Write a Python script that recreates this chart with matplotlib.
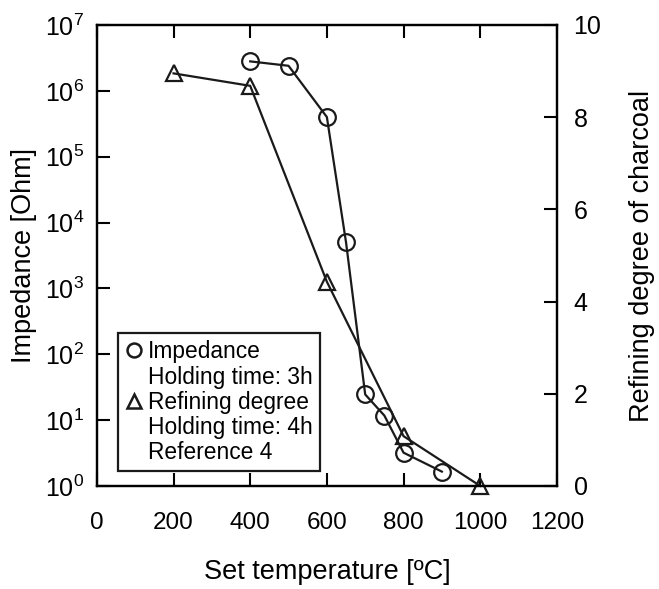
import matplotlib
matplotlib.use('Agg')
import matplotlib.pyplot as plt
from matplotlib.lines import Line2D

plt.rcParams['font.family'] = ['Liberation Sans', 'DejaVu Sans']
plt.rcParams['mathtext.fontset'] = 'custom'
plt.rcParams['mathtext.rm'] = 'Liberation Sans'

# Impedancia (eje izquierdo, log)
temp_imp = [400, 500, 600, 650, 700, 750, 800, 900]
impedancia = [2.8e6, 2.4e6, 4.0e5, 5.0e3, 24.5, 11.7, 3.2, 1.65]

# Grado de refinado (eje derecho)
temp_ref = [200, 400, 600, 800, 1000]
refinado = [8.95, 8.68, 4.43, 1.08, 0.0]

x_ticks = [0, 200, 400, 600, 800, 1000, 1200]
y_ticks_izq = [1e0, 1e1, 1e2, 1e3, 1e4, 1e5, 1e6, 1e7]
y_ticks_der = [0, 2, 4, 6, 8, 10]

fig, ax = plt.subplots(figsize=(6.59, 5.89), dpi=100)
fig.subplots_adjust(left=0.147, right=0.845, top=0.9576, bottom=0.175)

ax.plot(temp_imp, impedancia, color='#1a1a1a', lw=1.6, marker='o', ms=12,
        mfc='none', mec='#1a1a1a', mew=1.6)
ax.set_yscale('log')
ax.set_xlim(0, 1200)
ax.set_ylim(1e0, 1e7)
ax.set_xticks(x_ticks)
ax.set_yticks(y_ticks_izq)
ax.yaxis.set_minor_locator(matplotlib.ticker.NullLocator())
ax.tick_params(axis='both', direction='in', length=9.5, width=1.5)
ax.tick_params(axis='x', top=True, labelsize=17.5, pad=19)
ax.tick_params(axis='y', labelsize=18, pad=9)
ax.set_xlabel('Set temperature [ºC]', fontsize=19.5, labelpad=18)
ax.set_ylabel('Impedance [Ohm]', fontsize=19.5, labelpad=6)
for s in ax.spines.values():
    s.set_linewidth(1.6)

ax2 = ax.twinx()
ax2.plot(temp_ref, refinado, color='#1a1a1a', lw=1.6, marker='^', ms=12,
         mfc='none', mec='#1a1a1a', mew=1.6, clip_on=False)
ax2.set_ylim(0, 10)
ax2.set_yticks(y_ticks_der)
ax2.tick_params(axis='y', direction='in', length=9.5, width=1.5, labelsize=18, pad=12)
ax2.set_ylabel('Refining degree of charcoal', fontsize=19.5, labelpad=20)
for s in ax2.spines.values():
    s.set_linewidth(1.6)

# Leyenda
h_imp = Line2D([], [], ls='none', marker='o', ms=10, mfc='none', mec='#1a1a1a', mew=1.8)
h_ref = Line2D([], [], ls='none', marker='^', ms=10, mfc='none', mec='#1a1a1a', mew=1.8)
h_vacio = Line2D([], [], ls='none')
leg = ax2.legend([h_imp, h_vacio, h_ref, h_vacio, h_vacio],
                 ['Impedance', 'Holding time: 3h', 'Refining degree',
                  'Holding time: 4h', 'Reference 4'],
                 loc='lower left', bbox_to_anchor=(0.045, 0.032),
                 fontsize=16.4, handlelength=0.8, handletextpad=0.25,
                 labelspacing=0.1, borderpad=0.3, borderaxespad=0,
                 fancybox=False, framealpha=1, edgecolor='#1a1a1a')
leg.get_frame().set_linewidth(1.6)

plt.savefig('out.png', dpi=100)
